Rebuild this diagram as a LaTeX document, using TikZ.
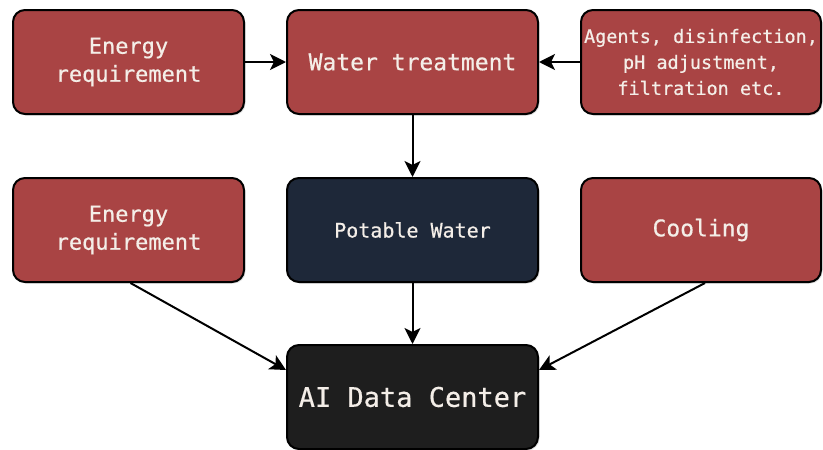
\documentclass[tikz,border=0pt]{standalone}
\usepackage{fontspec}
\setmainfont[FakeBold=0.6]{DejaVu Sans Mono}
\usetikzlibrary{arrows.meta,shadows}
\definecolor{boxred}{HTML}{A94444}
\definecolor{boxnavy}{HTML}{1E2839}
\definecolor{boxblack}{HTML}{1E1E1E}
\definecolor{txt}{HTML}{F4EEE8}
\tikzset{
  card/.style={draw=black, line width=2pt, rounded corners=12pt, text=txt,
    align=center, inner sep=0pt,
    drop shadow={shadow xshift=1.5pt, shadow yshift=-1.5pt, opacity=0.25}},
  redcard/.style={card, fill=boxred},
  conn/.style={line width=2pt, -{Stealth[length=16pt,width=16pt,inset=4pt]}},
}
\begin{document}
\begin{tikzpicture}[x=1pt,y=-1pt]
\useasboundingbox (0,0) rectangle (823,450);
% top row
\node[redcard, minimum width=231pt, minimum height=104pt, font=\fontsize{22}{28}\selectfont] (e1) at (128.5,62) {Energy\\requirement};
\node[redcard, minimum width=251pt, minimum height=104pt, font=\fontsize{23}{28}\selectfont] (wt) at (412.5,62) {Water treatment};
\node[redcard, minimum width=240pt, minimum height=104pt, font=\fontsize{18.5}{26}\selectfont] (ag) at (701,62) {Agents, disinfection,\\pH adjustment,\\filtration etc.};
% middle row
\node[redcard, minimum width=231pt, minimum height=104pt, font=\fontsize{22}{28}\selectfont] (e2) at (128.5,230) {Energy\\requirement};
\node[card, fill=boxnavy, minimum width=251pt, minimum height=104pt, font=\fontsize{20}{24}\selectfont] (pw) at (412.5,230) {Potable Water};
\node[redcard, minimum width=240pt, minimum height=104pt, font=\fontsize{23}{28}\selectfont] (co) at (701,230) {Cooling};
% bottom
\node[card, fill=boxblack, minimum width=251pt, minimum height=104pt, font=\fontsize{27}{30}\selectfont] (ai) at (412.5,397) {AI Data Center};
% connectors
\draw[conn] (e1.east) -- (wt.west);
\draw[conn] (ag.west) -- (wt.east);
\draw[conn] (wt.south) -- (pw.north);
\draw[conn] (pw.south) -- (ai.north);
\path (e2.south) ++(2,0) coordinate (e2s);
\path (co.south) ++(4,0) coordinate (cos);
\draw[conn] (e2s) -- (ai.west |- 0,370);
\draw[conn] (cos) -- (ai.east |- 0,370);
\end{tikzpicture}
\end{document}
